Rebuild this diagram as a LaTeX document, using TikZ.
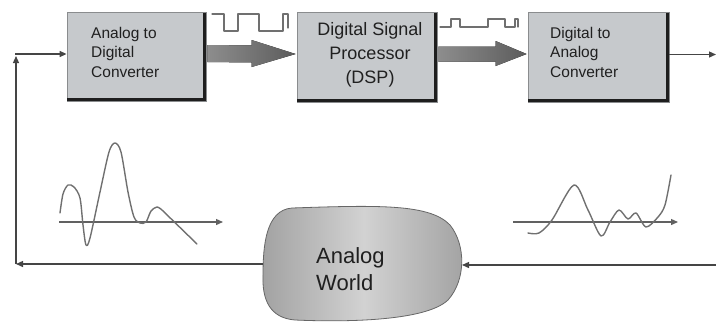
\documentclass[tikz,border=0pt]{standalone}
\usepackage{fontspec}
\setmainfont{Liberation Sans}
\usetikzlibrary{arrows.meta,calc}
\definecolor{boxfill}{HTML}{C6C9CC}
\definecolor{boxedge}{HTML}{8A8C8E}
\definecolor{shadowc}{HTML}{1E1E1E}
\definecolor{txt}{HTML}{202020}
\definecolor{linec}{HTML}{454545}
\definecolor{wavec}{HTML}{707070}
\definecolor{bigarr}{HTML}{5C5C5C}
\definecolor{blobdark}{HTML}{A2A2A2}
\definecolor{bloblight}{HTML}{D2D2D2}
\begin{document}
\begin{tikzpicture}[x=1pt,y=-1pt,
  boxstyle/.style={draw=boxedge, line width=0.8pt, fill=boxfill, minimum width=139pt, minimum height=89pt, inner sep=0pt},
  shadowline/.style={draw=shadowc, line width=3pt},
  smalltxt/.style={text=txt, inner sep=0pt, align=left, font=\fontsize{15.5}{19.5}\selectfont},
  dsptxt/.style={text=txt, inner sep=0pt, align=center, font=\fontsize{18}{24}\selectfont},
  worldtxt/.style={text=txt, inner sep=0pt, align=left, font=\fontsize{22}{27}\selectfont},
  fb/.style={draw=linec, line width=1.3pt, -{Triangle[length=7pt,width=6pt]}},
  axisline/.style={draw=linec!85, line width=1.3pt, -{Triangle[length=7pt,width=6pt]}},
  wave/.style={draw=wavec, line width=1.4pt, line join=round, line cap=round},
  bigarrow/.style={left color=bigarr!70, right color=bigarr, draw=none},
]
\useasboundingbox (0,0) rectangle (716,330);

% boxes
\node[boxstyle] (adc) at (136.5,56.5) {};
\node[boxstyle, minimum width=140pt, minimum height=90pt] (dsp) at (367,57) {};
\node[boxstyle, minimum width=141pt, minimum height=90pt] (dac) at (598.5,57) {};
\foreach \b in {adc,dsp,dac}{
  \draw[shadowline] ($(\b.north east)+(-1.5,1)$) -- ($(\b.south east)+(-1.5,-1.5)$) -- ($(\b.south west)+(0,-1.5)$);
}

% box texts
\node[smalltxt, anchor=north west] (adct) at (91,27) {Analog to\\Digital\\Converter};
\node[dsptxt, anchor=north] (dspt) at (370,22) {Digital Signal\\Processor\\(DSP)};
\node[smalltxt, anchor=north west] (dact) at (550,27) {Digital to\\Analog\\Converter};

% thick arrows
\coordinate (a1s) at ($(adc.east)+(1,-3)$);
\coordinate (a1e) at ($(dsp.west)+(-1,-3)$);
\fill[bigarrow] ($(a1s)+(0,-8.5)$) -- ($(a1e)+(-44,-8.5)$) -- ($(a1e)+(-44,-14)$) -- (a1e)
  -- ($(a1e)+(-44,13)$) -- ($(a1e)+(-44,8.5)$) -- ($(a1s)+(0,8.5)$) -- cycle;
\coordinate (a2s) at ($(dsp.east)+(1,-3)$);
\coordinate (a2e) at ($(dac.west)+(-1,-3)$);
\fill[bigarrow] ($(a2s)+(0,-7.5)$) -- ($(a2e)+(-31,-7.5)$) -- ($(a2e)+(-31,-13)$) -- (a2e)
  -- ($(a2e)+(-31,12)$) -- ($(a2e)+(-31,7.5)$) -- ($(a2s)+(0,7.5)$) -- cycle;

% square waves
\draw[wave, line width=1.3pt] (212,14) -- (224,14) -- (224,31) -- (238,31) -- (238,14) -- (259,14) -- (259,31)
  -- (283,31) -- (283,14) -- (288,14) -- (288,28);
\draw[wave, line width=1.3pt] (440,27) -- (451,27) -- (451,19) -- (460,19) -- (460,27) -- (488,27) -- (488,19)
  -- (505,19) -- (505,27) -- (515,27) -- (515,19) -- (518,19) -- (518,27);

% analog world blob
\coordinate (wl) at (263,264);
\coordinate (wr) at (462,265);
\shade[left color=blobdark, right color=blobdark, middle color=bloblight]
  (292,208) .. controls (380,205) and (430,204) .. (450,225) .. controls (466,245) and (466,280) .. (448,300)
  .. controls (425,322) and (340,322) .. (295,320) .. controls (270,318) and (262,300) .. (263,275)
  .. controls (263,245) and (266,210) .. (292,208) -- cycle;
\draw[black!60, line width=0.8pt]
  (292,208) .. controls (380,205) and (430,204) .. (450,225) .. controls (466,245) and (466,280) .. (448,300)
  .. controls (425,322) and (340,322) .. (295,320) .. controls (270,318) and (262,300) .. (263,275)
  .. controls (263,245) and (266,210) .. (292,208) -- cycle;
\node[worldtxt, anchor=north west] (world) at (316,247) {Analog\\World};

% feedback connectors
\coordinate (bl) at (16,264);
\coordinate (vtop) at (16,56);
\coordinate (hl) at (15,54);
\coordinate (rr) at (716,54.5);
\coordinate (br) at (716,265);
\draw[fb] (wl) -- (bl);
\draw[fb] (bl) -- (vtop);
\draw[fb] (hl) -- (hl -| adc.west);
\draw[fb] (dac.east |- rr) -- (rr);
\draw[fb] (br) -- (wr);

% signal plots
\coordinate (ax1s) at (59,222);
\coordinate (ax1e) at (223,222);
\coordinate (ax2s) at (513,222);
\coordinate (ax2e) at (678,222);
\draw[axisline] (ax1s) -- (ax1e);
\draw[axisline] (ax2s) -- (ax2e);
\draw[wave] plot[smooth, tension=0.5] coordinates {(60,213) (63,194) (68,185) (74,187) (80,198) (83,225) (86,245) (90,238)
  (100,192) (109,152) (115,143) (121,152) (128,192) (134,217) (140,223) (146,222) (151,211) (157,207) (162,210)};
\draw[wave] (162,210) -- (197,244);
\draw[wave] plot[smooth, tension=0.5] coordinates {(528,233) (539,233) (552,220) (574,185) (588,210) (601,236) (610,222)
  (619,210) (628,219) (636,213) (646,227) (658,217) (665,205) (671,175)};
\end{tikzpicture}
\end{document}
